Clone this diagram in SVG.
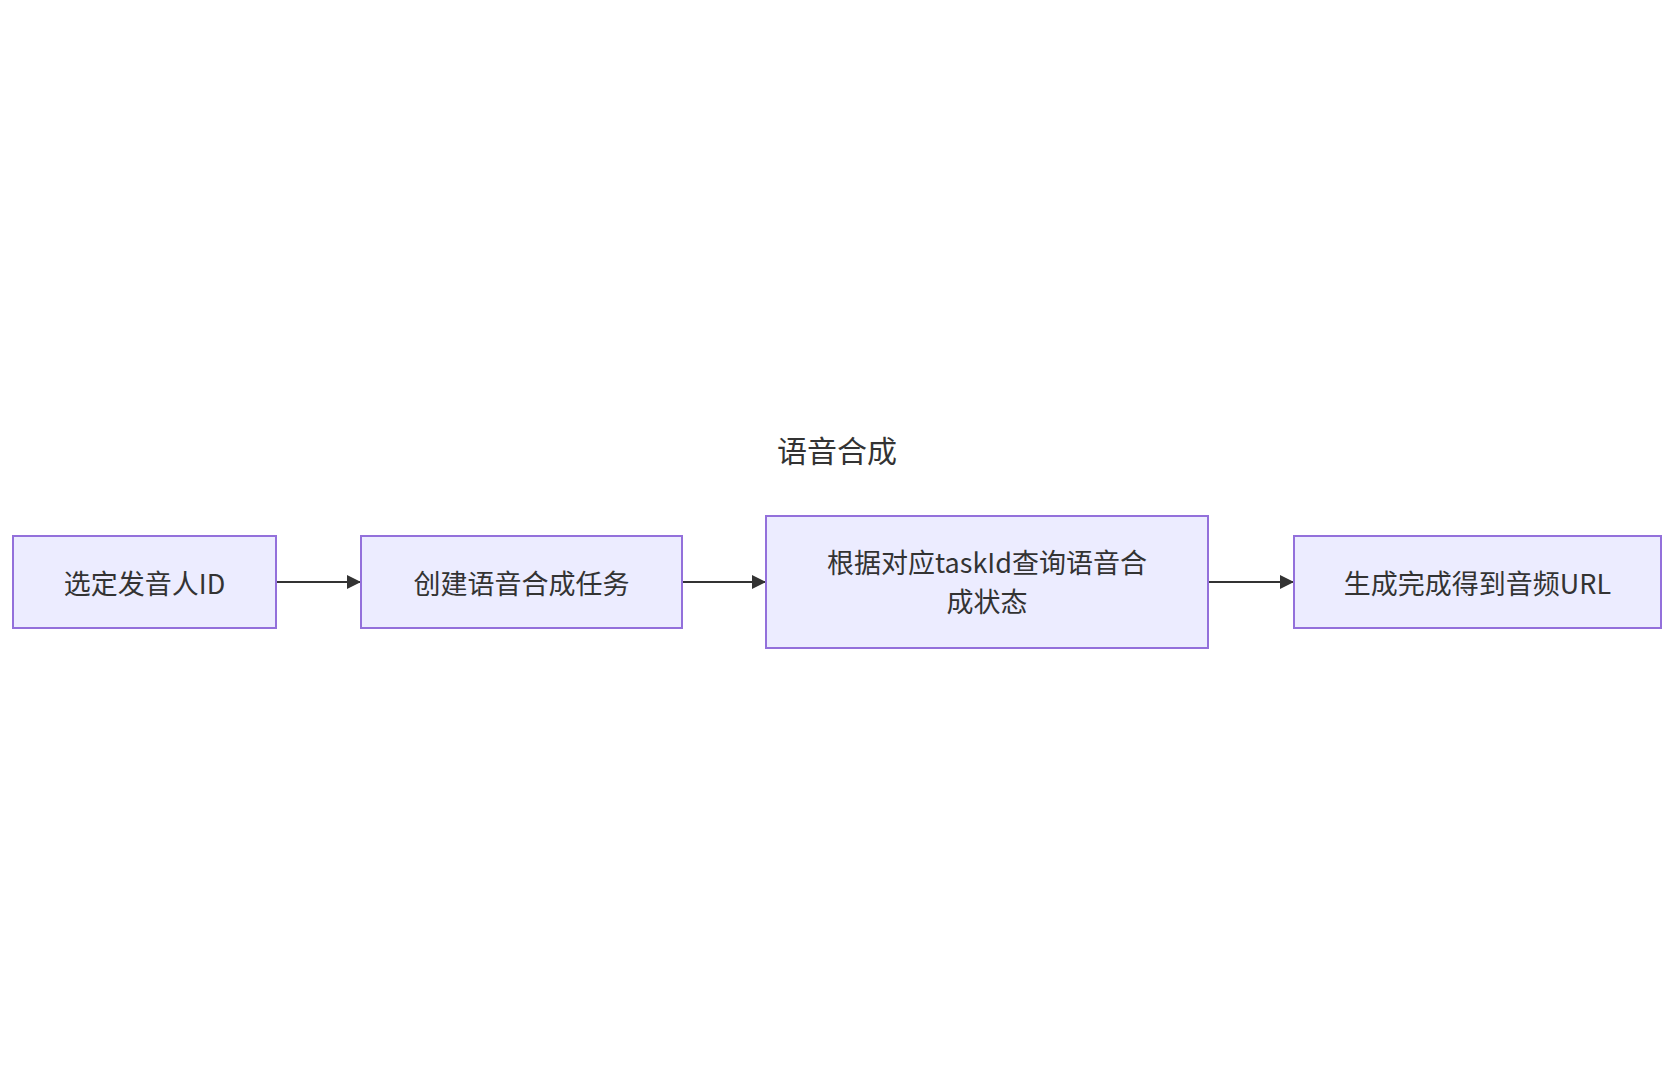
<svg xmlns="http://www.w3.org/2000/svg" width="1675" height="1080" viewBox="0 0 1675 1080">
<style>
.n{fill:#ECECFF;stroke:#9370DB;stroke-width:2}
.t{font-family:"Noto Sans CJK SC","Noto Sans",sans-serif;font-size:27px;fill:#333;text-anchor:middle;dominant-baseline:central}
.e{stroke:#333;stroke-width:2;fill:none}
</style>
<defs><marker id="a" viewBox="0 0 10 10" refX="10" refY="5" markerWidth="7" markerHeight="7" orient="auto"><path d="M0,0L10,5L0,10z" fill="#333"/></marker></defs>
<rect width="1675" height="1080" fill="#fff"/>
<text class="t" x="837" y="449" style="font-size:30px">语音合成</text>
<g id="edges">
<line class="e" x1="276" y1="582" x2="361" y2="582" marker-end="url(#a)"/>
<line class="e" x1="682" y1="582" x2="766" y2="582" marker-end="url(#a)"/>
<line class="e" x1="1208" y1="582" x2="1294" y2="582" marker-end="url(#a)"/>
</g>
<g id="n1"><rect class="n" x="13" y="536" width="263" height="92"/><text class="t" x="144.5" y="582">选定发音人ID</text></g>
<g id="n2"><rect class="n" x="361" y="536" width="321" height="92"/><text class="t" x="521.5" y="582">创建语音合成任务</text></g>
<g id="n3"><rect class="n" x="766" y="516" width="442" height="132"/><text class="t" x="987" y="561">根据对应taskId查询语音合</text><text class="t" x="987" y="600">成状态</text></g>
<g id="n4"><rect class="n" x="1294" y="536" width="367" height="92"/><text class="t" x="1477.5" y="582">生成完成得到音频URL</text></g>
</svg>
